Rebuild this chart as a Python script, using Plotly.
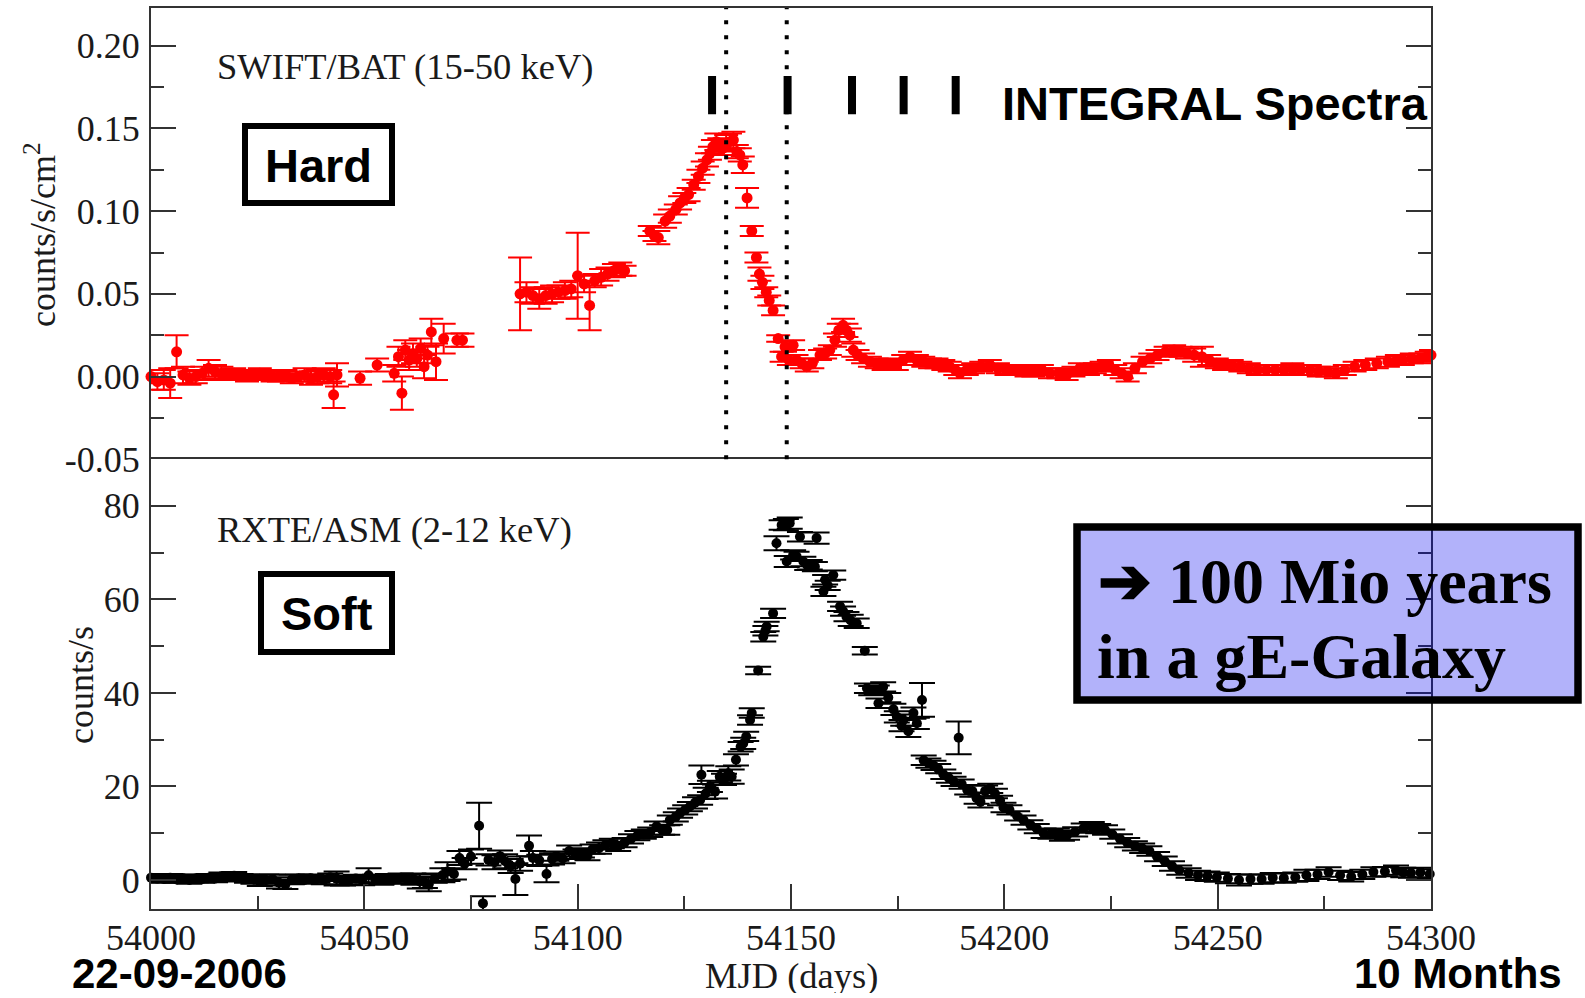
import plotly.graph_objects as go

# ---------------- data ----------------
# SWIFT/BAT 15-50 keV light curve (counts/s/cm^2)
bat_mjd = [54000.0, 54001.5, 54003.0, 54004.5, 54006.0, 54007.5, 54009.0, 54010.5, 54012.0, 54013.5,
           54015.0, 54016.5, 54018.0, 54019.5, 54021.0, 54022.5, 54024.0, 54025.5, 54027.0, 54028.5,
           54030.0, 54031.5, 54033.0, 54034.5, 54036.0, 54037.5, 54039.0, 54040.5, 54042.0, 54042.8,
           54043.6, 54049.0, 54053.0, 54057.0, 54058.0, 54058.8, 54059.6, 54060.5, 54061.4, 54062.3,
           54063.2, 54064.0, 54064.8, 54065.7, 54066.8, 54068.6, 54071.7, 54073.0,
           54086.5, 54088.0, 54089.5, 54091.0, 54092.5, 54094.0, 54095.5, 54097.0, 54098.5, 54100.0,
           54101.5, 54102.8, 54104.0, 54105.5, 54107.0, 54108.5, 54110.0, 54111.0,
           54116.9, 54118.0, 54118.9, 54120.5, 54121.6, 54123.0, 54124.0, 54125.0, 54126.0, 54127.2,
           54128.3, 54129.3, 54130.3, 54131.0, 54131.7, 54132.5, 54133.2, 54134.0, 54134.8, 54135.7,
           54136.5, 54137.3, 54138.0, 54138.7, 54139.7, 54140.8, 54141.9, 54142.6, 54143.3, 54144.2,
           54144.9, 54145.8, 54147.0, 54147.8, 54148.6, 54149.5, 54150.5, 54151.3, 54152.5, 54153.7,
           54155.0, 54156.8, 54158.0, 54159.1, 54160.3, 54161.2, 54162.2, 54163.0, 54163.8, 54164.6,
           54165.6, 54166.9, 54168.5, 54170.1, 54171.7, 54173.2, 54174.8, 54176.3, 54177.9, 54179.5,
           54181.0, 54182.6, 54184.1, 54185.7, 54187.2, 54188.5, 54189.6, 54191.2, 54192.7, 54194.6,
           54196.6, 54198.5, 54200.5, 54202.0, 54203.6, 54205.2, 54206.8, 54208.8, 54210.7, 54212.7,
           54214.6, 54216.2, 54217.7, 54219.6, 54221.2, 54222.8, 54224.5, 54226.0, 54227.5, 54228.9,
           54230.6, 54232.4, 54234.2, 54235.9, 54237.8, 54239.8, 54241.3, 54242.8, 54244.5, 54246.3,
           54248.0, 54249.8, 54251.5, 54253.3, 54255.3, 54257.3, 54259.4, 54261.4, 54263.5, 54265.5,
           54267.5, 54269.5, 54271.6, 54273.7, 54275.7, 54277.7, 54279.8, 54282.1, 54284.6, 54287.3,
           54289.9, 54292.0, 54293.4, 54295.5, 54297.5, 54299.0, 54300.0]
bat_rate = [0.000, -0.003, -0.002, -0.004, 0.015, 0.001, -0.001, 0.000, 0.002, 0.005,
            0.003, 0.002, 0.001, 0.002, 0.001, 0.000, 0.001, 0.002, 0.001, 0.000,
            0.000, 0.001, -0.001, 0.000, 0.001, -0.001, 0.000, 0.001, 0.000, -0.011,
            0.001, -0.001, 0.007, 0.002, 0.012, -0.010, 0.016, 0.010, 0.014, 0.011,
            0.017, 0.006, 0.013, 0.027, 0.009, 0.023, 0.022, 0.022,
            0.050, 0.051, 0.049, 0.047, 0.049, 0.050, 0.051, 0.052, 0.053, 0.061,
            0.056, 0.043, 0.058, 0.060, 0.062, 0.064, 0.065, 0.064,
            0.088, 0.085, 0.084, 0.094, 0.097, 0.101, 0.105, 0.108, 0.110, 0.116,
            0.121, 0.126, 0.131, 0.135, 0.139, 0.142, 0.139, 0.138, 0.141, 0.142,
            0.143, 0.136, 0.134, 0.128, 0.108, 0.088, 0.072, 0.062, 0.057, 0.051,
            0.046, 0.040, 0.023, 0.012, 0.018, 0.010, 0.019, 0.010, 0.008, 0.006,
            0.008, 0.013, 0.014, 0.016, 0.022, 0.028, 0.031, 0.028, 0.025, 0.016,
            0.013, 0.011, 0.009, 0.008, 0.007, 0.008, 0.007, 0.010, 0.012, 0.010,
            0.009, 0.008, 0.008, 0.007, 0.006, 0.004, 0.002, 0.004, 0.005, 0.006,
            0.007, 0.005, 0.004, 0.004, 0.004, 0.003, 0.003, 0.004, 0.002, 0.002,
            0.001, 0.003, 0.005, 0.004, 0.005, 0.006, 0.007, 0.004, 0.002, 0.000,
            0.005, 0.009, 0.011, 0.013, 0.015, 0.016, 0.015, 0.014, 0.013, 0.012,
            0.010, 0.008, 0.007, 0.007, 0.006, 0.005, 0.004, 0.004, 0.004, 0.004,
            0.005, 0.004, 0.004, 0.003, 0.003, 0.002, 0.004, 0.006, 0.007, 0.008,
            0.009, 0.010, 0.010, 0.011, 0.011, 0.012, 0.013]
bat_err = [0.004, 0.005, 0.006, 0.009, 0.010, 0.005, 0.004, 0.004, 0.004, 0.005,
           0.004, 0.004, 0.003, 0.003, 0.003, 0.003, 0.003, 0.003, 0.003, 0.003,
           0.003, 0.003, 0.003, 0.003, 0.004, 0.004, 0.004, 0.004, 0.004, 0.008,
           0.007, 0.004, 0.004, 0.005, 0.006, 0.010, 0.006, 0.006, 0.006, 0.005,
           0.006, 0.007, 0.005, 0.008, 0.011, 0.009, 0.004, 0.004,
           0.022, 0.006, 0.005, 0.006, 0.005, 0.005, 0.004, 0.005, 0.005, 0.026,
           0.005, 0.015, 0.004, 0.005, 0.004, 0.004, 0.004, 0.003,
           0.003, 0.003, 0.004, 0.004, 0.004, 0.003, 0.004, 0.003, 0.004, 0.003,
           0.004, 0.004, 0.004, 0.004, 0.004, 0.005, 0.005, 0.004, 0.005, 0.005,
           0.005, 0.004, 0.004, 0.005, 0.006, 0.003, 0.003, 0.004, 0.004, 0.003,
           0.003, 0.003, 0.002, 0.003, 0.003, 0.003, 0.003, 0.003, 0.003, 0.003,
           0.003, 0.003, 0.003, 0.003, 0.004, 0.004, 0.004, 0.004, 0.004, 0.004,
           0.003, 0.003, 0.003, 0.003, 0.003, 0.003, 0.003, 0.003, 0.003, 0.003,
           0.003, 0.003, 0.003, 0.003, 0.003, 0.003, 0.003, 0.003, 0.003, 0.003,
           0.003, 0.003, 0.003, 0.003, 0.003, 0.003, 0.003, 0.003, 0.003, 0.003,
           0.003, 0.003, 0.003, 0.003, 0.003, 0.003, 0.003, 0.003, 0.003, 0.003,
           0.003, 0.003, 0.003, 0.003, 0.003, 0.003, 0.003, 0.003, 0.004, 0.006,
           0.003, 0.003, 0.003, 0.003, 0.003, 0.003, 0.003, 0.003, 0.003, 0.003,
           0.003, 0.003, 0.003, 0.003, 0.003, 0.003, 0.003, 0.003, 0.003, 0.003,
           0.003, 0.003, 0.003, 0.003, 0.003, 0.003, 0.003]

# RXTE/ASM 2-12 keV light curve (counts/s)
asm_mjd = [54000.0, 54001.5, 54003.0, 54004.5, 54006.0, 54007.5, 54009.0, 54010.5, 54012.0, 54013.5,
           54015.0, 54016.5, 54018.0, 54019.5, 54021.0, 54022.5, 54024.0, 54025.5, 54027.0, 54028.5,
           54030.0, 54031.5, 54033.0, 54034.5, 54036.0, 54037.5, 54039.0, 54040.5, 54042.0, 54043.5,
           54045.0, 54046.5, 54048.0, 54049.5, 54051.0, 54052.5, 54054.0, 54055.5, 54057.0, 54058.5,
           54060.0, 54061.5, 54063.0, 54064.2, 54065.1, 54066.5, 54068.3, 54069.5, 54071.0, 54072.3,
           54073.5, 54075.0, 54076.9, 54077.8, 54079.1, 54080.5, 54081.8, 54083.0, 54084.3, 54085.4,
           54086.5, 54088.6, 54089.5, 54091.0, 54092.7, 54094.0, 54095.0, 54096.5, 54098.0, 54099.5,
           54101.0, 54102.3, 54103.5, 54105.0, 54106.5, 54108.0, 54109.5, 54111.0, 54112.5, 54114.0,
           54115.5, 54117.0, 54118.5, 54119.8, 54121.0, 54121.6, 54123.0, 54124.0, 54125.2, 54126.3,
           54127.5, 54128.7, 54129.0, 54130.0, 54131.0, 54132.2, 54133.3, 54134.3, 54135.3, 54136.1,
           54137.1, 54138.2, 54138.8, 54139.5, 54140.4, 54140.8, 54142.3, 54143.5, 54144.0, 54144.3,
           54145.8, 54146.6, 54147.8, 54148.8, 54149.7, 54149.0, 54150.5, 54151.3, 54152.1, 54152.9,
           54153.8, 54154.4, 54155.6, 54156.0, 54157.6, 54158.0, 54158.6, 54159.9, 54161.5, 54162.2,
           54163.0, 54164.0, 54165.4, 54167.3, 54167.8, 54168.8, 54170.1, 54170.5, 54171.6, 54172.8,
           54174.0, 54174.8, 54175.9, 54176.3, 54177.5, 54178.7, 54179.5, 54180.7, 54181.1, 54182.2,
           54183.4, 54184.5, 54185.7, 54187.0, 54188.1, 54189.3, 54190.0, 54191.3, 54192.5, 54193.5,
           54194.4, 54195.5, 54196.7, 54197.8, 54199.0, 54199.8, 54201.2, 54203.0, 54204.5, 54206.1,
           54207.6, 54209.2, 54210.8, 54212.3, 54213.5, 54214.7, 54216.6, 54218.6, 54220.5, 54222.0,
           54223.6, 54225.3, 54227.1, 54228.8, 54230.6, 54232.3, 54234.0, 54235.8, 54237.6, 54239.3,
           54241.0, 54243.2, 54245.4, 54247.6, 54249.8, 54252.4, 54255.0, 54257.7, 54260.3, 54262.9,
           54265.5, 54268.2, 54270.8, 54273.4, 54276.0, 54278.7, 54281.3, 54283.9, 54286.5, 54289.2,
           54291.8, 54293.5, 54295.3, 54297.5, 54299.7]
asm_rate = [0.5, 0.3, 0.2, 0.5, 0.1, 0.4, 0.0, 0.3, 0.2, 0.5,
            0.3, 0.8, 0.6, 0.9, 0.5, 0.3, 0.1, -0.3, 0.0, 0.2,
            -0.6, -0.9, 0.1, 0.3, 0.0, 0.4, 0.2, 0.0, 0.6, 0.3,
            -0.2, 0.0, 0.3, -0.1, 1.0, 0.2, 0.0, 0.4, 0.1, 0.5,
            0.2, 0.2, -0.3, -0.5, -0.9, 0.4, 1.0, 1.8, 1.3, 4.7,
            3.5, 5.0, 11.6, -5.0, 4.3, 3.8, 5.1, 4.0, 3.0, 0.2,
            3.5, 7.3, 4.7, 4.2, 1.3, 4.5, 5.1, 4.6, 6.2, 5.5,
            5.8, 5.2, 6.6, 6.8, 7.5, 7.8, 7.2, 8.0, 8.8, 9.5,
            9.8, 10.2, 11.5, 10.7, 10.7, 12.8, 13.5, 14.3, 15.0, 15.7,
            16.5, 17.1, 22.5, 18.5, 20.0, 18.9, 22.1, 21.5, 22.8, 22.1,
            25.7, 28.5, 29.2, 30.7, 34.2, 35.7, 44.8, 52.0, 53.3, 54.2,
            57.0, 72.0, 75.9, 76.0, 76.3, 68.1, 69.5, 69.2, 73.4, 68.1,
            67.3, 67.4, 67.0, 73.1, 61.7, 64.2, 63.0, 65.2, 58.5, 57.5,
            56.3, 55.5, 54.9, 49.0, 41.0, 40.5, 40.6, 37.8, 41.3, 39.0,
            36.5, 34.9, 33.0, 34.2, 31.8, 35.7, 33.5, 38.5, 25.6, 25.0,
            24.5, 23.8, 22.6, 21.8, 21.1, 30.4, 20.5, 19.3, 19.0, 17.5,
            16.7, 19.0, 19.6, 18.5, 17.0, 15.5, 15.0, 13.7, 12.8, 11.8,
            11.0, 10.0, 9.8, 10.0, 9.4, 9.6, 10.3, 11.1, 11.4, 11.0,
            10.7, 9.8, 8.8, 8.0, 7.3, 6.8, 6.2, 5.0, 4.0, 3.0,
            2.1, 1.5, 1.0, 0.8, 0.6, 0.3, 0.0, 0.2, 0.2, 0.5,
            0.4, 0.6, 1.0, 1.2, 1.7, 1.0, 0.7, 1.2, 1.7, 1.8,
            2.1, 1.6, 1.5, 1.6, 1.3]
asm_err = [0.8, 0.8, 0.8, 0.8, 0.7, 0.8, 0.8, 0.8, 0.8, 0.8,
           0.8, 0.8, 0.8, 0.8, 0.8, 0.9, 0.9, 1.0, 1.2, 1.0,
           1.2, 1.0, 1.0, 0.9, 0.8, 0.8, 0.8, 0.9, 0.8, 1.5,
           1.0, 0.9, 0.8, 1.0, 1.5, 0.9, 1.0, 0.9, 0.8, 0.9,
           1.0, 1.2, 1.5, 1.2, 1.5, 1.0, 1.5, 2.0, 1.2, 1.5,
           1.2, 1.5, 4.9, 1.5, 1.2, 1.5, 1.2, 1.5, 1.5, 3.4,
           1.5, 2.2, 1.5, 1.2, 1.8, 1.2, 1.0, 1.0, 1.2, 1.0,
           1.0, 1.0, 1.0, 1.2, 1.0, 1.0, 1.0, 1.0, 1.0, 1.0,
           1.0, 1.0, 1.0, 1.0, 1.0, 1.0, 1.0, 1.0, 1.0, 1.0,
           1.2, 1.0, 2.0, 1.2, 1.2, 1.5, 1.2, 1.2, 1.5, 1.5,
           1.2, 1.0, 1.2, 1.0, 1.0, 1.0, 0.8, 1.0, 1.0, 1.0,
           1.0, 1.5, 1.0, 1.2, 1.2, 1.2, 1.0, 1.0, 1.0, 1.0,
           1.0, 1.0, 1.0, 1.2, 1.0, 1.0, 1.0, 1.0, 1.0, 1.0,
           1.0, 1.2, 1.0, 0.8, 1.0, 1.0, 1.0, 1.0, 1.0, 1.0,
           1.2, 1.2, 1.2, 1.2, 1.2, 1.2, 1.2, 3.6, 1.0, 1.0,
           1.0, 1.0, 1.0, 1.0, 1.0, 3.5, 1.0, 1.0, 1.2, 1.2,
           1.2, 1.2, 1.0, 1.0, 1.0, 1.0, 1.0, 1.0, 1.0, 1.0,
           1.0, 1.0, 1.0, 1.0, 1.0, 1.0, 1.0, 1.0, 1.0, 1.0,
           1.0, 1.0, 1.0, 1.0, 1.0, 1.0, 1.0, 1.0, 1.0, 1.0,
           1.0, 1.0, 1.0, 1.0, 1.0, 1.0, 1.2, 1.0, 1.0, 1.0,
           1.0, 1.0, 1.2, 1.0, 1.0, 1.0, 1.0, 1.0, 1.0, 1.0,
           1.0, 1.0, 1.0, 1.0, 1.0]

# INTEGRAL spectra epochs (MJD) and the marker span (counts/s/cm^2)
integral_mjd = [54131.5, 54149.2, 54164.3, 54176.4, 54188.6]
integral_span = [0.1585, 0.1817]
# dotted reference epochs (MJD)
dotted_mjd = [54134.8, 54149.0]

# axis ticks
x_ticks = [54000, 54050, 54100, 54150, 54200, 54250, 54300]
x_tick_text = ["54000", "54050", "54100", "54150", "54200", "54250", "54300"]
bat_ticks = [-0.05, 0.00, 0.05, 0.10, 0.15, 0.20]
bat_tick_text = ["-0.05", "0.00", "0.05", "0.10", "0.15", "0.20"]
asm_ticks = [0, 20, 40, 60, 80]
asm_tick_text = ["0", "20", "40", "60", "80"]

# ---------------- geometry helpers (pixels -> paper) ----------------
W, H = 1585, 998
L, R, T, B = 151, 1431, 8, 909
SPLIT = 459.3


def px(x):
    return (x - L) / (R - L)


def py(y):
    return (B - y) / (B - T)


SERIF = "Liberation Serif, Times New Roman, serif"
SANS = "Liberation Sans, Arial, sans-serif"
AXC = "#333333"
TXT = "#1a1a1a"

fig = go.Figure()

fig.add_trace(go.Scatter(
    x=bat_mjd, y=bat_rate, mode="markers",
    marker=dict(color="#ff0000", size=11),
    error_y=dict(type="data", array=bat_err, color="#ff0000", thickness=2, width=12),
    xaxis="x2", yaxis="y2", cliponaxis=False, showlegend=False))

fig.add_trace(go.Scatter(
    x=asm_mjd, y=asm_rate, mode="markers",
    marker=dict(color="#000000", size=10),
    error_y=dict(type="data", array=asm_err, color="#000000", thickness=2, width=13),
    xaxis="x", yaxis="y", cliponaxis=False, showlegend=False))

# INTEGRAL spectra markers
ix, iy = [], []
for m in integral_mjd:
    ix += [m, m, None]
    iy += [integral_span[0], integral_span[1], None]
fig.add_trace(go.Scatter(x=ix, y=iy, mode="lines", line=dict(color="black", width=8),
                         xaxis="x2", yaxis="y2", showlegend=False, hoverinfo="skip"))

shapes = []
for m in dotted_mjd:
    shapes.append(dict(type="line", xref="x2", yref="y2 domain", x0=m, x1=m, y0=0, y1=1,
                       line=dict(color="black", width=4, dash="4px,11px"), layer="above"))


def box(x0, y0, x1, y1, lw, fill="rgba(0,0,0,0)"):
    return dict(type="rect", xref="paper", yref="paper",
                x0=px(x0), x1=px(x1), y0=py(y1), y1=py(y0),
                line=dict(color="black", width=lw), fillcolor=fill, layer="above")


shapes.append(box(245, 126, 392, 203, 6))
shapes.append(box(261, 574, 392, 652, 6))
shapes.append(box(1077, 527, 1578, 700, 7.5, fill="rgba(0,0,240,0.30)"))

annotations = []


def ann(text, x, y, size, family, xanchor="left", bold=False, angle=0, color=TXT, height=None):
    a = dict(text=text, x=px(x), y=py(y), xref="paper", yref="paper",
             xanchor=xanchor, yanchor="middle", showarrow=False,
             textangle=angle,
             font=dict(size=size, family=family, color=color,
                       weight="bold" if bold else "normal"))
    if height is not None:
        a["height"] = height
    annotations.append(a)


ann("SWIFT/BAT (15-50 keV)", 215, 67, 36.5, SERIF)
ann("RXTE/ASM (2-12 keV)", 215, 529, 36.5, SERIF)
ann("INTEGRAL Spectra", 1000, 103, 47, SANS, bold=True, color="black")
ann("Hard", 318.5, 165, 47, SANS, xanchor="center", bold=True, color="black")
ann("Soft", 326.5, 613, 47, SANS, xanchor="center", bold=True, color="black")
ann("22-09-2006", 70, 973, 42, SANS, bold=True, color="black", height=32)
ann("10 Months", 1352, 973, 42, SANS, bold=True, color="black", height=32)
ann("MJD (days)", 791, 975, 36.5, SERIF, xanchor="center", height=36)
ann("counts/s/cm<sup>2</sup>", 40, 235, 36, SERIF, xanchor="center", angle=-90)
ann("counts/s", 81, 685, 36, SERIF, xanchor="center", angle=-90)
ann("➔ 100 Mio years", 1096, 581, 64, SERIF, bold=True, color="black")
ann("in a gE-Galaxy", 1095, 656, 64, SERIF, bold=True, color="black")

tickfont = dict(family=SERIF, size=36, color=TXT)
common = dict(showline=True, linecolor=AXC, linewidth=2, showgrid=False, zeroline=False,
              ticks="inside", ticklen=25, tickwidth=2, tickcolor=AXC, tickfont=tickfont)

split = (B - SPLIT) / (B - T)

fig.update_layout(
    width=W, height=H,
    margin=dict(l=L, r=W - R, t=T, b=H - B),
    paper_bgcolor="white", plot_bgcolor="white",
    xaxis=dict(domain=[0, 1], anchor="y", range=[54000, 54300], mirror=True,
               tickmode="array", tickvals=x_ticks, ticktext=x_tick_text,
               ticklabelstandoff=-4,
               minor=dict(ticks="inside", ticklen=13, tickwidth=2, tickcolor=AXC,
                          tickmode="linear", tick0=54000, dtick=25),
               **common),
    xaxis2=dict(domain=[0, 1], anchor="y2", range=[54000, 54300], matches="x", side="top",
                showline=True, linecolor=AXC, linewidth=2, mirror=False,
                showgrid=False, zeroline=False, ticks="", showticklabels=False),
    yaxis=dict(domain=[0, split], anchor="x", range=[-6.2, 89.95], mirror="ticks",
               tickmode="array", tickvals=asm_ticks, ticktext=asm_tick_text,
               ticklabelstandoff=2,
               minor=dict(ticks="inside", ticklen=13, tickwidth=2, tickcolor=AXC,
                          tickmode="linear", tick0=0, dtick=10),
               **common),
    yaxis2=dict(domain=[split, 1], anchor="x2", range=[-0.05, 0.2228], mirror="ticks",
                tickmode="array", tickvals=bat_ticks, ticktext=bat_tick_text,
                ticklabelstandoff=2,
                minor=dict(ticks="inside", ticklen=13, tickwidth=2, tickcolor=AXC,
                           tickmode="linear", tick0=0, dtick=0.025),
                **common),
    shapes=shapes,
    annotations=annotations,
)

fig.write_html("out.html")
